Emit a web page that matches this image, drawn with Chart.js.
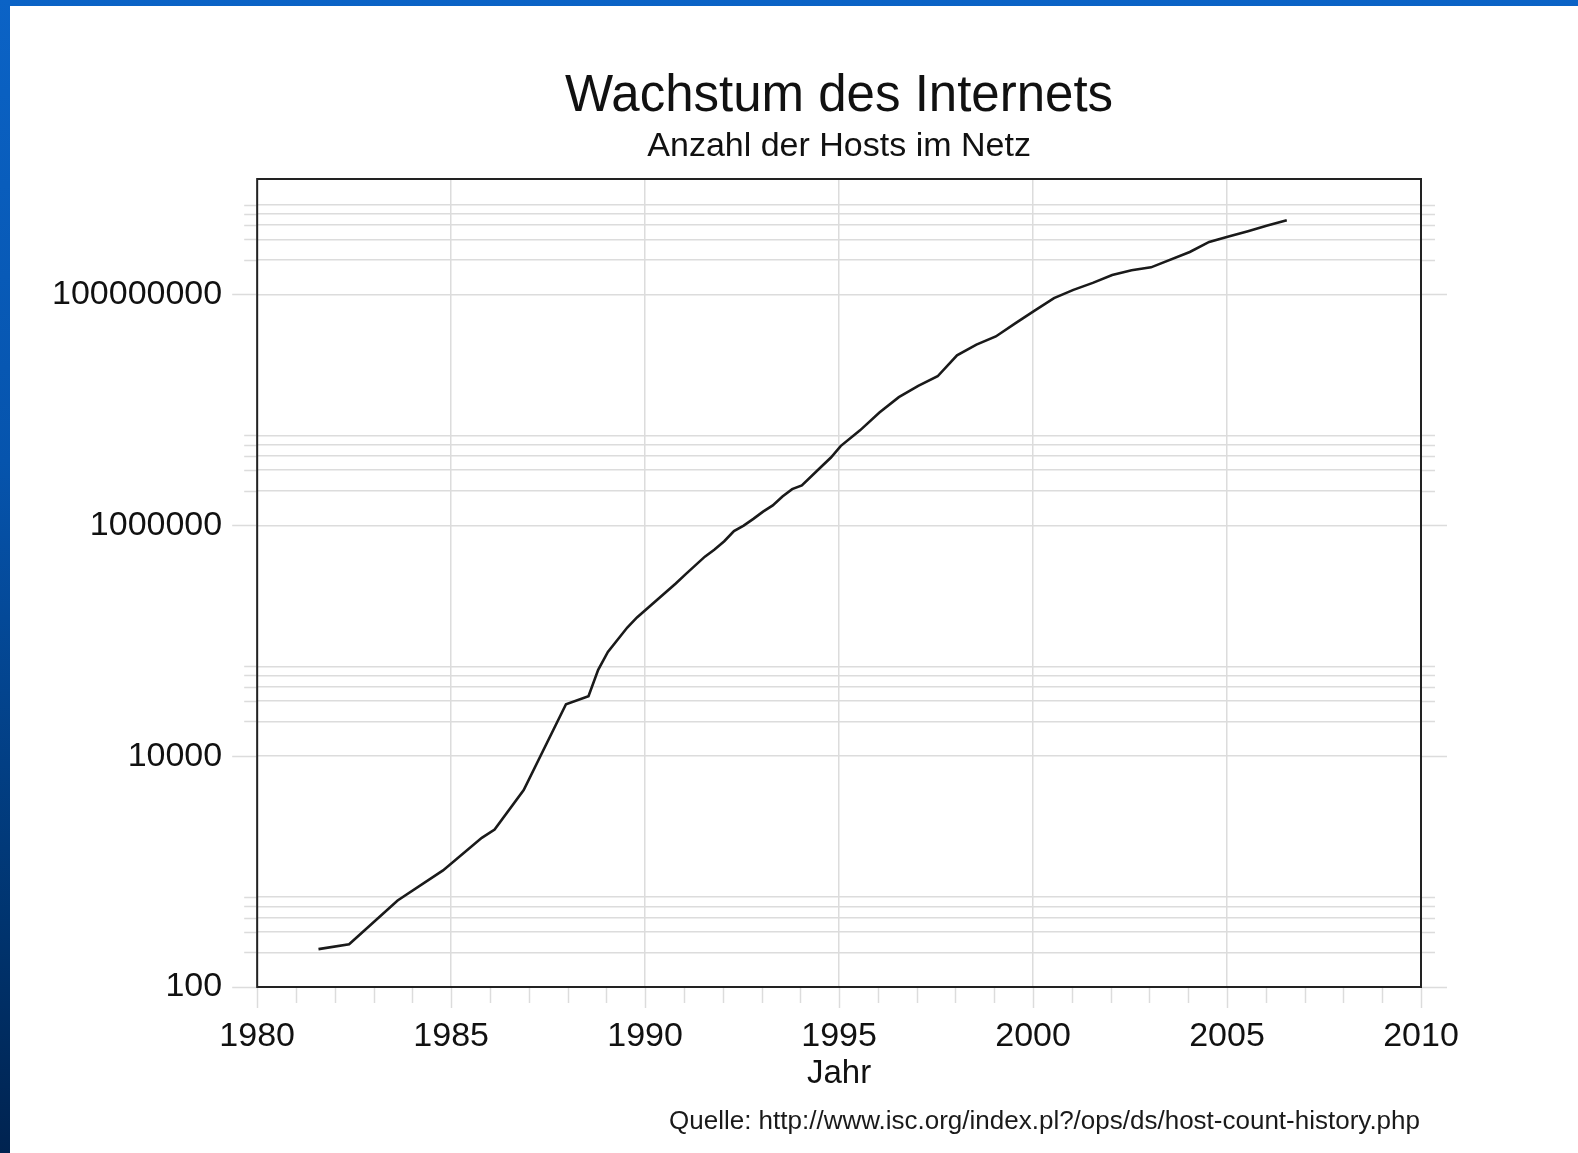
<!DOCTYPE html>
<html>
<head>
<meta charset="utf-8">
<script src="https://cdn.jsdelivr.net/npm/chart.js@4"></script>
<style>
    body {
        margin: 0;
        width: 1578px;
        height: 1153px;
        overflow: hidden;
        background: linear-gradient(to bottom, #0b63c6 0%, #0654ad 40%, #00346f 80%, #002350 100%);
        font-family: "Liberation Sans", Arial, sans-serif;
    }
    #sheet {
        position: absolute;
        left: 10px;
        top: 6px;
        width: 1568px;
        height: 1147px;
        background: #fff;
    }
    #chart {
        position: absolute;
        left: 0;
        top: 0;
    }
    #source {
        position: absolute;
        right: 158px;
        top: 1105px;
        font-size: 26px;
        line-height: 30px;
        color: #1a1a1a;
        white-space: nowrap;
    }
</style>
</head>
<body>
<div id="sheet">
    <canvas id="chart" width="1568" height="1147"></canvas>
</div>
<div id="source">Quelle: http://www.isc.org/index.pl?/ops/ds/host-count-history.php</div>

<script>
// host counts (ISC survey)
const years = [1981.58, 1982.37, 1983.62, 1984.79, 1985.79, 1986.12, 1986.87, 1987.96,
    1988.54, 1988.79, 1989.04, 1989.54, 1989.79, 1990.79, 1991.04, 1991.54, 1991.79,
    1992.04, 1992.29, 1992.54, 1992.79, 1993.04, 1993.29, 1993.54, 1993.79, 1994.04,
    1994.54, 1994.79, 1995.04, 1995.54, 1996.04, 1996.54, 1997.04, 1997.54, 1998.04,
    1998.54, 1999.04, 1999.54, 2000.04, 2000.54, 2001.04, 2001.54, 2002.04, 2002.54,
    2003.04, 2004.04, 2004.54, 2005.04, 2005.54, 2006.04, 2006.54];
const hosts = [213, 235, 562, 1024, 1961, 2308, 5089, 28174,
    33000, 56000, 80000, 130000, 159000, 313000, 376000, 535000, 617000,
    727000, 890000, 992000, 1136000, 1313000, 1486000, 1776000, 2056000, 2217000,
    3212000, 3864000, 4852000, 6642000, 9472000, 12881000, 16146000, 19540000, 29670000,
    36739000, 43230000, 56218000, 72398000, 93048000, 109574000, 125888000, 147345000, 162128000,
    171638000, 233101000, 285139000, 317646000, 353284000, 394992000, 439286000];

const xLabels = [1980, 1985, 1990, 1995, 2000, 2005, 2010];
const yLabels = [100, 10000, 1000000, 100000000];
const yMinorFactors = [2, 3, 4, 5, 6];

const GRID = "#dcdcdc";

// all y gridline values: labelled decades plus 2..6 times each of them
const yGridValues = [];
yLabels.forEach(v => {
    yGridValues.push(v);
    yMinorFactors.forEach(f => yGridValues.push(v * f));
});
yGridValues.sort((a, b) => a - b);

const xTickValues = [];
for (let y = xLabels[0]; y <= xLabels[xLabels.length - 1]; y++) xTickValues.push(y);

// box round the plot and the tick stubs outside of it
const framePlugin = {
    id: "frame",
    beforeDatasetsDraw(chart) {
        const ctx = chart.ctx;
        const a = chart.chartArea;
        const xs = chart.scales.x, ys = chart.scales.y;
        ctx.save();
        ctx.strokeStyle = GRID;
        ctx.lineWidth = 1.5;
        yGridValues.forEach(v => {
            const py = Math.round(ys.getPixelForValue(v)) + 0.5;
            const major = yLabels.includes(v);
            ctx.beginPath();
            ctx.moveTo(a.left - (major ? 25 : 13), py);
            ctx.lineTo(a.left, py);
            ctx.moveTo(a.right, py);
            ctx.lineTo(a.right + (major ? 26 : 14), py);
            ctx.stroke();
        });
        xTickValues.forEach(v => {
            const px = Math.round(xs.getPixelForValue(v)) + 0.5;
            const major = xLabels.includes(v);
            ctx.beginPath();
            ctx.moveTo(px, a.bottom + (major ? 0 : 1));
            ctx.lineTo(px, a.bottom + (major ? 21 : 16));
            ctx.stroke();
        });
        ctx.restore();
    },
    afterDraw(chart) {
        const ctx = chart.ctx;
        const a = chart.chartArea;
        ctx.save();
        ctx.strokeStyle = "#222";
        ctx.lineWidth = 2;
        ctx.strokeRect(a.left, a.top, a.right - a.left, a.bottom - a.top);
        ctx.restore();
    }
};

new Chart(document.getElementById("chart"), {
    type: "line",
    data: {
        datasets: [{
            data: years.map((x, i) => ({ x: x, y: hosts[i] })),
            borderColor: "#1a1a1a",
            borderWidth: 2.6,
            pointRadius: 0,
            tension: 0,
            fill: false
        }]
    },
    options: {
        responsive: false,
        animation: false,
        layout: { padding: { left: 7, right: 157, top: 38, bottom: 59 } },
        plugins: {
            legend: { display: false },
            tooltip: { enabled: false },
            title: {
                display: true,
                fullSize: false,
                text: "Wachstum des Internets",
                color: "#111",
                font: { family: "Liberation Sans", size: 51, weight: "normal", lineHeight: 1.2 },
                padding: { top: 22, bottom: 0 }
            },
            subtitle: {
                display: true,
                fullSize: false,
                text: "Anzahl der Hosts im Netz",
                color: "#111",
                font: { family: "Liberation Sans", size: 34, weight: "normal", lineHeight: 1.2 },
                padding: { top: -1, bottom: 12 }
            }
        },
        scales: {
            x: {
                type: "linear",
                min: 1980,
                max: 2010,
                afterBuildTicks: s => { s.ticks = xTickValues.map(v => ({ value: v })); },
                grid: {
                    color: c => xLabels.includes(c.tick && c.tick.value) ? GRID : "transparent",
                    lineWidth: 1.5,
                    drawTicks: false
                },
                border: { display: false },
                ticks: {
                    autoSkip: false,
                    maxRotation: 0,
                    padding: 31,
                    color: "#111",
                    font: { family: "Liberation Sans", size: 34, lineHeight: 1.1 },
                    callback: v => xLabels.includes(v) ? String(v) : ""
                },
                title: {
                    display: true,
                    text: "Jahr",
                    color: "#111",
                    font: { family: "Liberation Sans", size: 33, lineHeight: 1.2 },
                    padding: { top: -32, bottom: 0 }
                }
            },
            y: {
                type: "logarithmic",
                min: 100,
                max: 1000000000,
                afterBuildTicks: s => { s.ticks = yGridValues.map(v => ({ value: v })); },
                grid: {
                    color: GRID,
                    lineWidth: 1.5,
                    drawTicks: false
                },
                border: { display: false },
                ticks: {
                    autoSkip: false,
                    padding: 35,
                    color: "#111",
                    font: { family: "Liberation Sans", size: 34 },
                    callback: v => yLabels.includes(v) ? String(v) : ""
                }
            }
        }
    },
    plugins: [framePlugin]
});
</script>
</body>
</html>
